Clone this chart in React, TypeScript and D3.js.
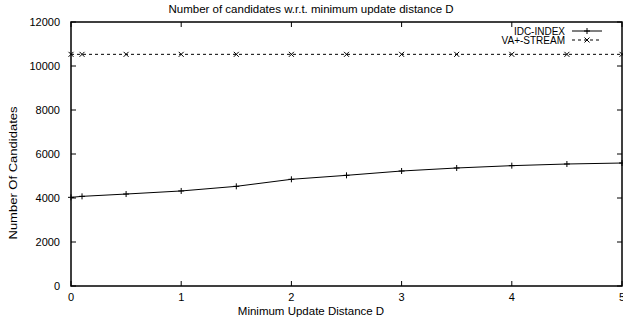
import React from "react";
import * as d3 from "d3";

const distances = [0, 0.1, 0.5, 1, 1.5, 2, 2.5, 3, 3.5, 4, 4.5, 5];
const idcIndex = [4030, 4075, 4180, 4320, 4530, 4850, 5030, 5227, 5364, 5470, 5545, 5590];
const vaStream = [10530, 10530, 10530, 10530, 10530, 10530, 10530, 10530, 10530, 10530, 10530, 10530];
const xTicks = [0, 1, 2, 3, 4, 5];
const yTicks = [0, 2000, 4000, 6000, 8000, 10000, 12000];

const W = 623;
const H = 318;
const m = { top: 22, right: 1, bottom: 32, left: 71 };
const font = "'Liberation Sans', Arial, Helvetica, sans-serif";

export default function App() {
  const x = d3.scaleLinear().domain([0, 5]).range([m.left, W - m.right]);
  const y = d3.scaleLinear().domain([0, 12000]).range([H - m.bottom, m.top]);
  const idcPts = distances.map((d, i) => [d, idcIndex[i]] as [number, number]);
  const vaPts = distances.map((d, i) => [d, vaStream[i]] as [number, number]);
  const line = d3.line<[number, number]>().x((d) => x(d[0])).y((d) => y(d[1]));
  const tk = 5;

  const plus = (cx: number, cy: number, k: string) => (
    <path key={k} d={`M${cx - 3},${cy}h6M${cx},${cy - 3}v6`} stroke="#000" strokeWidth={1} />
  );
  const cross = (cx: number, cy: number, k: string) => (
    <path key={k} d={`M${cx - 2.5},${cy - 2.5}l5,5M${cx - 2.5},${cy + 2.5}l5,-5`} stroke="#000" strokeWidth={1} />
  );

  const x0 = x(0), x1 = x(5), y0 = y(0), y1 = y(12000);

  return (
    <svg width={W} height={H} style={{ position: "absolute", left: 0, top: 0, background: "#fff" }} fontFamily={font}>
      <text x={311} y={13} textAnchor="middle" fontSize={11.5}>
        Number of candidates w.r.t. minimum update distance D
      </text>
      {yTicks.map((t) => (
        <g key={"y" + t}>
          <path d={`M${x0},${y(t)}h${tk}M${x1},${y(t)}h${-tk}`} stroke="#000" strokeWidth={1} />
          <text x={60} y={y(t) + 4} textAnchor="end" fontSize={11}>
            {t}
          </text>
        </g>
      ))}
      {xTicks.map((t) => (
        <g key={"x" + t}>
          <path d={`M${x(t)},${y0}v${-tk}M${x(t)},${y1}v${tk}`} stroke="#000" strokeWidth={1} />
          <text x={x(t)} y={y0 + 15} textAnchor="middle" fontSize={11}>
            {t}
          </text>
        </g>
      ))}
      <text x={311} y={315} textAnchor="middle" fontSize={11.5}>
        Minimum Update Distance D
      </text>
      <text
        transform={`translate(17,173) rotate(-90)`}
        textAnchor="middle"
        fontSize={10}
        textLength={133}
        lengthAdjust="spacingAndGlyphs"
      >
        Number Of Candidates
      </text>
      <path d={line(idcPts) || ""} fill="none" stroke="#000" strokeWidth={1} />
      {idcPts.map((p, i) => plus(x(p[0]), y(p[1]), "p" + i))}
      <path d={line(vaPts) || ""} fill="none" stroke="#000" strokeWidth={1} strokeDasharray="3,3" />
      {vaPts.map((p, i) => cross(x(p[0]), y(p[1]), "c" + i))}
      <rect x={x0} y={y1} width={x1 - x0} height={y0 - y1} fill="none" stroke="#000" strokeWidth={1.5} />
      <text x={565} y={34.5} textAnchor="end" fontSize={10}>IDC-INDEX</text>
      <path d="M572,31H602" stroke="#000" strokeWidth={1} />
      {plus(587, 31, "lp")}
      <text x={565} y={43.5} textAnchor="end" fontSize={10}>VA+-STREAM</text>
      <path d="M572,40H602" stroke="#000" strokeWidth={1} strokeDasharray="3,3" />
      {cross(587, 40, "lc")}
    </svg>
  );
}
